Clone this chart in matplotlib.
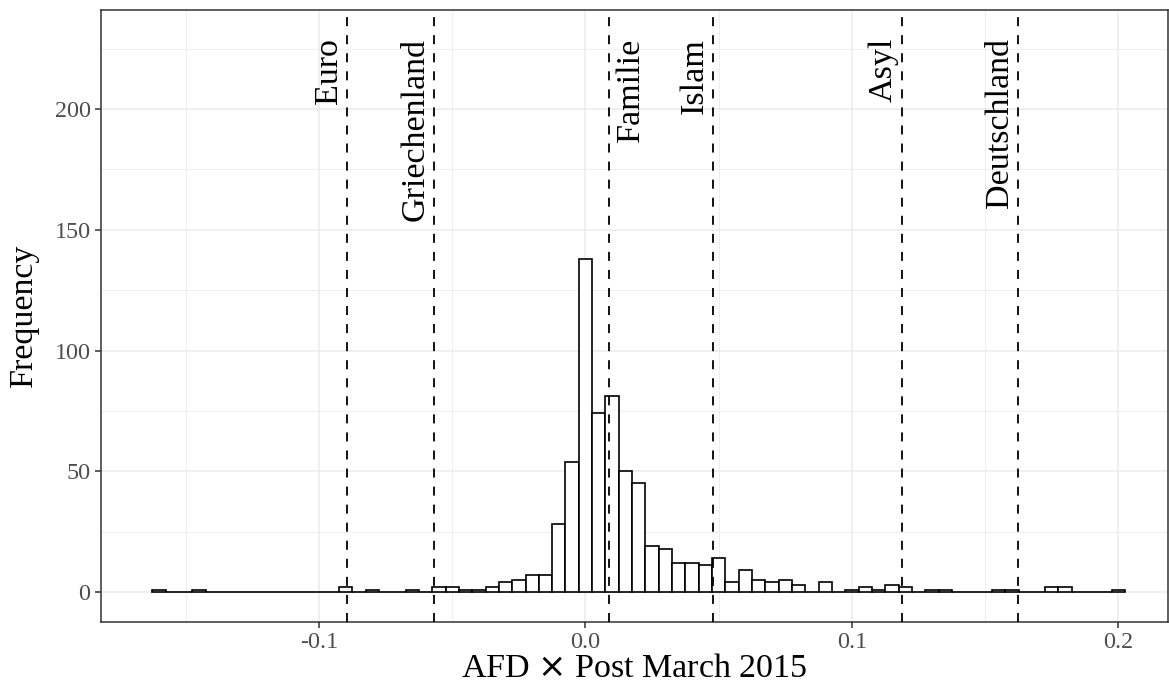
import numpy as np
import matplotlib.pyplot as plt
from matplotlib.ticker import MultipleLocator

plt.rcParams['font.family'] = ['Liberation Serif', 'DejaVu Serif']

# -----------------------------------------------------------------------------
# Histogram counts (binwidth 0.005, bins centred on multiples of 0.005)
bin_width = 0.005
bin_centres = np.round(np.arange(-0.160, 0.2001, bin_width), 3)
counts = [1, 0, 0, 1, 0, 0, 0, 0, 0, 0, 0, 0, 0, 0,       # -0.160 .. -0.095
          2, 0, 1, 0, 0, 1, 0, 2, 2, 1, 1, 2, 4, 5,       # -0.090 .. -0.025
          7, 7, 28, 54, 138, 74, 81, 50, 45, 19, 18,      # -0.020 .. 0.030
          12, 12, 11, 14, 4, 9, 5, 4, 5, 3, 0, 4, 0,     # 0.035 .. 0.095
          1, 2, 1, 3, 2, 0, 1, 1, 0, 0, 0, 1, 1,         # 0.100 .. 0.160
          0, 0, 2, 2, 0, 0, 0, 1]                         # 0.165 .. 0.200

# keywords and their coefficient estimates (vertical lines)
words = ['Euro', 'Griechenland', 'Familie', 'Islam', 'Asyl', 'Deutschland']
word_x = [-0.0894, -0.0567, 0.0087, 0.0479, 0.1189, 0.1623]
word_side = ['left', 'left', 'right', 'left', 'left', 'left']

# -----------------------------------------------------------------------------
W, H = 1169, 692
fig = plt.figure(figsize=(W / 100, H / 100), dpi=100)
ax = fig.add_axes([101 / W, 1 - 622 / H, (1168 - 101) / W, (622 - 9.5) / H])

ax.bar(bin_centres, counts, width=bin_width, align='center',
       facecolor='white', edgecolor='black', linewidth=1.2, zorder=3)

for w, xv, side in zip(words, word_x, word_side):
    ax.axvline(xv, color='black', linestyle=(0, (5, 5)), linewidth=1.3,
               zorder=4)
    if side == 'left':
        ax.annotate(w, xy=(xv, 229.5), xytext=(-7.5, 0),
                    textcoords='offset points', rotation=90,
                    rotation_mode='anchor', ha='right', va='baseline',
                    fontsize=24.5, zorder=5)
    else:
        ax.annotate(w, xy=(xv, 229.5), xytext=(5, 0),
                    textcoords='offset points', rotation=90,
                    rotation_mode='anchor', ha='right', va='top',
                    fontsize=24.5, zorder=5)

ax.set_xlim(-0.1818, 0.2186)
ax.set_ylim(-12.4, 241.2)

ax.xaxis.set_major_locator(MultipleLocator(0.1))
ax.xaxis.set_minor_locator(MultipleLocator(0.05))
ax.yaxis.set_major_locator(MultipleLocator(50))
ax.yaxis.set_minor_locator(MultipleLocator(25))
ax.set_xticks([-0.1, 0.0, 0.1, 0.2])
ax.set_xticklabels(['-0.1', '0.0', '0.1', '0.2'])

ax.grid(which='major', color='#ebebeb', linewidth=1.1, zorder=0)
ax.grid(which='minor', color='#ebebeb', linewidth=0.6, zorder=0)
ax.set_axisbelow(True)

ax.tick_params(which='major', length=4.5, width=1.1, color='#333333',
               labelsize=17.4, labelcolor='#4d4d4d', pad=3)
ax.tick_params(which='minor', length=0)
for sp in ax.spines.values():
    sp.set_color('#333333')
    sp.set_linewidth(1.1)

ax.set_xlabel(r'AFD $\times$ Post March 2015', fontsize=24.5, labelpad=0)
ax.set_ylabel('Frequency', fontsize=24.5, labelpad=11)

plt.savefig('out.png', dpi=100)
